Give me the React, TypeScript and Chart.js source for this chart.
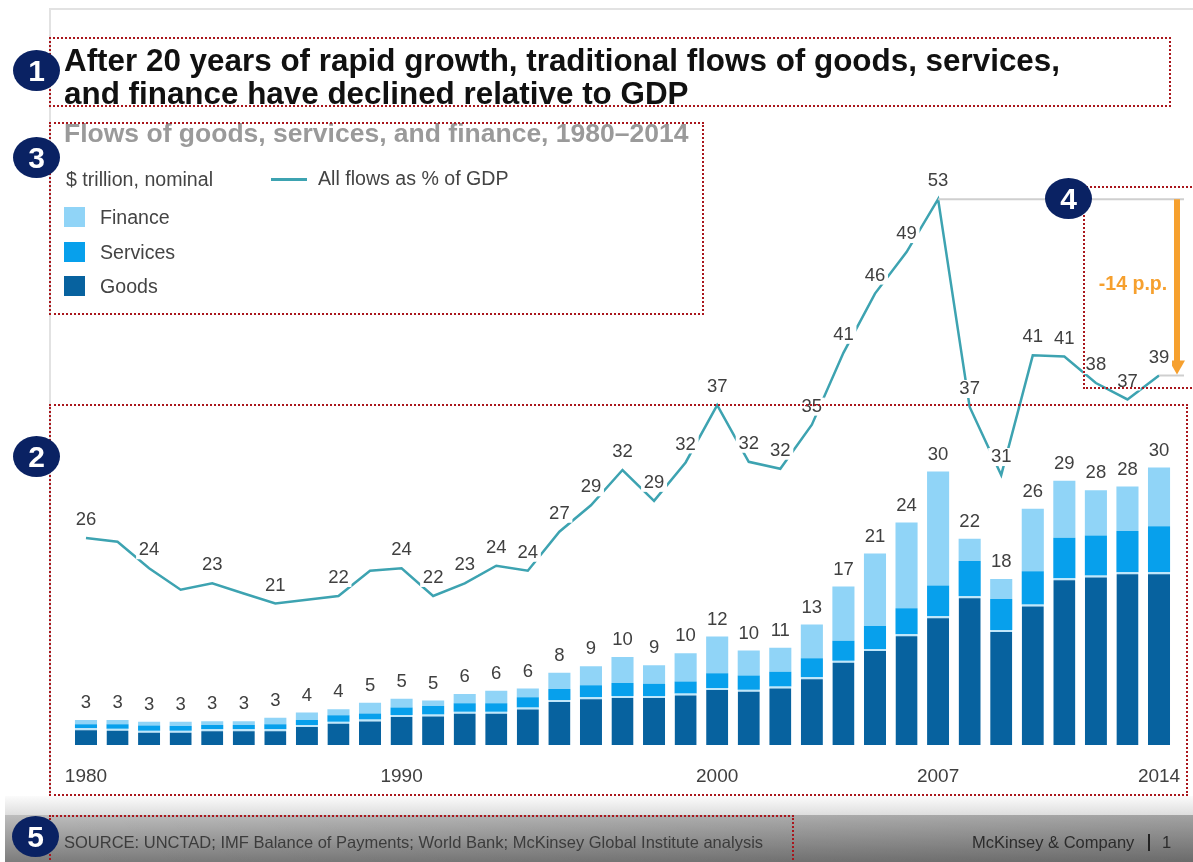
import React, { useEffect, useRef } from "react";
import { Chart, registerables } from "chart.js";

Chart.register(...registerables);

const years = Array.from({ length: 35 }, (_, i) => String(1980 + i));
const tickedYears = ["1980", "1990", "2000", "2007", "2014"];
const unlabelledFlowYears = ["1981", "1983", "1985", "1987", "1989"];

// $ trillion, nominal
const goods = [1.8, 1.75, 1.55, 1.55, 1.7, 1.7, 1.7, 2.15, 2.5, 2.75, 3.25, 3.3, 3.6, 3.6, 4.05, 4.85, 5.15, 5.3, 5.3, 5.55, 6.15, 5.95, 6.3, 7.3, 9.1, 10.35, 11.95, 13.9, 16.05, 12.4, 15.15, 18, 18.3, 18.65, 18.65];
const services = [0.45, 0.5, 0.55, 0.5, 0.45, 0.45, 0.55, 0.55, 0.7, 0.65, 0.8, 0.9, 0.9, 0.9, 1.1, 1.2, 1.3, 1.4, 1.3, 1.3, 1.6, 1.55, 1.6, 2.05, 2.15, 2.5, 2.8, 3.3, 3.8, 3.35, 3.6, 4.35, 4.3, 4.45, 4.95];
const finance = [0.45, 0.45, 0.4, 0.45, 0.4, 0.4, 0.7, 0.8, 0.65, 1.15, 0.95, 0.6, 1.0, 1.35, 0.95, 1.75, 2.05, 2.8, 2.0, 3.05, 3.95, 2.7, 2.6, 3.65, 5.85, 7.8, 9.25, 12.3, 2.4, 2.15, 6.75, 6.15, 4.9, 4.8, 6.35];

// All flows as % of GDP
const flowsPctGdp = [26.1, 25.8, 23.7, 22.0, 22.5, 21.7, 20.9, 21.2, 21.5, 23.5, 23.7, 21.5, 22.5, 23.9, 23.5, 26.6, 28.7, 31.5, 29.05, 32.1, 36.65, 32.15, 31.6, 35.1, 40.8, 45.5, 48.8, 53, 36.5, 31.1, 40.6, 40.5, 38.4, 37.1, 39];

const peakYear = "2007";
const lastYear = "2014";
const dropLabel = "-14 p.p.";

const FONT = '"Liberation Sans", Arial, sans-serif';
const GOODS_COLOR = "#07629f";
const SERVICES_COLOR = "#07a0ec";
const FINANCE_COLOR = "#90d4f7";
const LINE_COLOR = "#3da3b1";
const ORANGE = "#f6a02e";
const NAVY = "#0a2263";
const DOT_RED = "#a9161c";

const annotate = {
  id: "annotate",
  afterDatasetsDraw(chart: any) {
    const { ctx, scales } = chart;
    const { x, y, y1 } = scales;
    ctx.save();
    ctx.textAlign = "center";
    ctx.textBaseline = "middle";

    // Reference lines bracketing the fall from the peak
    const peakY = y1.getPixelForValue(flowsPctGdp[years.indexOf(peakYear)]);
    const lastY = y1.getPixelForValue(flowsPctGdp[years.indexOf(lastYear)]);
    ctx.strokeStyle = "#cfcfcf";
    ctx.lineWidth = 2;
    ctx.beginPath();
    ctx.moveTo(x.getPixelForValue(years.indexOf(peakYear)), peakY);
    ctx.lineTo(1184, peakY);
    ctx.moveTo(x.getPixelForValue(years.indexOf(lastYear)), lastY);
    ctx.lineTo(1184, lastY);
    ctx.stroke();

    // Drop arrow
    ctx.strokeStyle = ORANGE;
    ctx.fillStyle = ORANGE;
    ctx.lineWidth = 6;
    ctx.beginPath();
    ctx.moveTo(1177, peakY);
    ctx.lineTo(1177, lastY - 14);
    ctx.stroke();
    ctx.beginPath();
    ctx.moveTo(1169, lastY - 15);
    ctx.lineTo(1185, lastY - 15);
    ctx.lineTo(1177, lastY - 1);
    ctx.closePath();
    ctx.fill();
    ctx.font = `bold 19.5px ${FONT}`;
    ctx.fillText(dropLabel, 1133, 285);

    ctx.font = `18.5px ${FONT}`;

    // Bar totals
    ctx.fillStyle = "#404040";
    years.forEach((yr, i) => {
      const total = Math.round((goods[i] + services[i] + finance[i]) * 100) / 100;
      ctx.fillText(String(Math.round(total)), x.getPixelForValue(i), y.getPixelForValue(total) - 17);
    });

    // Flow labels sit on a white plate that interrupts the line
    years.forEach((yr, i) => {
      if (unlabelledFlowYears.includes(yr)) return;
      const px = x.getPixelForValue(i);
      const py = y1.getPixelForValue(flowsPctGdp[i]) - 18;
      ctx.fillStyle = "#fff";
      ctx.fillRect(px - 13, py - 9, 26, 18);
      ctx.fillStyle = "#404040";
      ctx.fillText(String(Math.round(flowsPctGdp[i])), px, py);
    });
    ctx.restore();
  },
};

const box = (left: number, top: number, width: number, height: number): React.CSSProperties => ({
  position: "absolute",
  left,
  top,
  width,
  height,
  boxSizing: "border-box",
  border: `2.5px dotted ${DOT_RED}`,
});

const Badge = ({ n, x, y }: { n: number; x: number; y: number }) => (
  <div
    style={{
      position: "absolute",
      left: x,
      top: y,
      width: 47,
      height: 41,
      borderRadius: "50%",
      background: NAVY,
      color: "#fff",
      font: `bold 30px/41px ${FONT}`,
      textAlign: "center",
    }}
  >
    {n}
  </div>
);

const text = (left: number, centerY: number, size: number, color: string, extra: React.CSSProperties = {}): React.CSSProperties => ({
  position: "absolute",
  left,
  top: centerY - size * 0.6,
  font: `${size}px/${size * 1.2}px ${FONT}`,
  color,
  whiteSpace: "nowrap",
  ...extra,
});

export default function App() {
  const ref = useRef<HTMLCanvasElement>(null);

  useEffect(() => {
    const chart = new Chart(ref.current as HTMLCanvasElement, {
      type: "bar",
      data: {
        labels: years,
        datasets: [
          { type: "line", label: "All flows as % of GDP", data: flowsPctGdp, yAxisID: "y1", borderColor: LINE_COLOR, borderWidth: 2.5, pointRadius: 0, tension: 0, order: 0 },
          { label: "Goods", data: goods, backgroundColor: GOODS_COLOR, borderColor: "#bfe7fb", borderWidth: { top: 2 }, borderSkipped: false, order: 1 },
          { label: "Services", data: services, backgroundColor: SERVICES_COLOR, order: 1 },
          { label: "Finance", data: finance, backgroundColor: FINANCE_COLOR, order: 1 },
        ] as any,
      },
      options: {
        animation: false,
        responsive: false,
        layout: { padding: { left: 70.2, right: 18.2, top: 150, bottom: 77 } },
        datasets: { bar: { categoryPercentage: 1, barPercentage: 0.7 } },
        plugins: { legend: { display: false }, tooltip: { enabled: false } },
        scales: {
          x: {
            stacked: true,
            grid: { display: false, drawTicks: false },
            border: { display: false },
            afterFit: (s: any) => {
              s.height = 40;
              s.paddingLeft = 0;
              s.paddingRight = 0;
            },
            ticks: {
              autoSkip: false,
              maxRotation: 0,
              padding: 20,
              color: "#404040",
              font: { family: FONT, size: 19 },
              callback(this: any, v: any) {
                const label = this.getLabelForValue(v);
                return tickedYears.includes(label) ? label : "";
              },
            },
          },
          y: { stacked: true, display: false, min: 0, max: 64.2 },
          y1: { display: false, min: 9.67, max: 56.9 },
        },
      } as any,
      plugins: [annotate],
    });
    return () => chart.destroy();
  }, []);

  return (
    <div style={{ position: "absolute", left: 0, top: 0, width: 1193, height: 862, overflow: "hidden", background: "#fff" }}>
      {/* Slide frame and footer band */}
      <div style={{ position: "absolute", left: 49, top: 8, right: 0, height: 2, background: "#e2e2e2" }} />
      <div style={{ position: "absolute", left: 49, top: 8, width: 1.5, height: 810, background: "#e2e2e2" }} />
      <div style={{ position: "absolute", left: 5, right: 0, top: 796, height: 19, background: "linear-gradient(#fbfbfb, #dedede)" }} />
      <div style={{ position: "absolute", left: 5, right: 0, top: 815, height: 47, background: "linear-gradient(#bdbdbd, #7c7c7c)" }} />
      <div style={{ position: "absolute", left: 5, right: 0, top: 815, height: 47, background: "linear-gradient(90deg, rgba(0,0,0,0), rgba(0,0,0,0.14))" }} />

      <canvas ref={ref} width={1193} height={862} style={{ position: "absolute", left: 0, top: 0, width: 1193, height: 862 }} />

      <div style={text(64, 60.5, 31.4, "#111", { fontWeight: "bold" })}>After 20 years of rapid growth, traditional flows of goods, services,</div>
      <div style={text(64, 93.5, 31.4, "#111", { fontWeight: "bold" })}>and finance have declined relative to GDP</div>
      <div style={text(64, 134, 26.5, "#9a9a9a", { fontWeight: "bold" })}>Flows of goods, services, and finance, 1980–2014</div>

      <div style={text(66, 180, 19.6, "#444")}>$ trillion, nominal</div>
      <div style={{ position: "absolute", left: 271, top: 178, width: 36, height: 2.5, background: LINE_COLOR }} />
      <div style={text(318, 179, 19.6, "#444")}>All flows as % of GDP</div>
      <div style={{ position: "absolute", left: 64, top: 207, width: 21, height: 20, background: FINANCE_COLOR }} />
      <div style={{ position: "absolute", left: 64, top: 242, width: 21, height: 20, background: SERVICES_COLOR }} />
      <div style={{ position: "absolute", left: 64, top: 276, width: 21, height: 20, background: GOODS_COLOR }} />
      <div style={text(100, 218, 19.6, "#444")}>Finance</div>
      <div style={text(100, 253, 19.6, "#444")}>Services</div>
      <div style={text(100, 287, 19.6, "#444")}>Goods</div>

      <div style={text(64, 843, 16.5, "#3c3c3c")}>SOURCE: UNCTAD; IMF Balance of Payments; World Bank; McKinsey Global Institute analysis</div>
      <div style={text(972, 843, 16.5, "#2c2c2c")}>McKinsey &amp; Company</div>
      <div style={{ position: "absolute", left: 1148, top: 834, width: 1.5, height: 17, background: "#222" }} />
      <div style={text(1162, 843, 16.5, "#2c2c2c")}>1</div>

      <div style={box(49, 37, 1122, 70)} />
      <div style={box(49, 122, 655, 193)} />
      <div style={box(49, 404, 1139, 392)} />
      <div style={{ ...box(1083, 186, 120, 203) }} />
      <div style={box(49, 815, 745, 60)} />

      <Badge n={1} x={13} y={50} />
      <Badge n={2} x={13} y={436} />
      <Badge n={3} x={13} y={137} />
      <Badge n={4} x={1045} y={178} />
      <Badge n={5} x={12} y={816} />
    </div>
  );
}
